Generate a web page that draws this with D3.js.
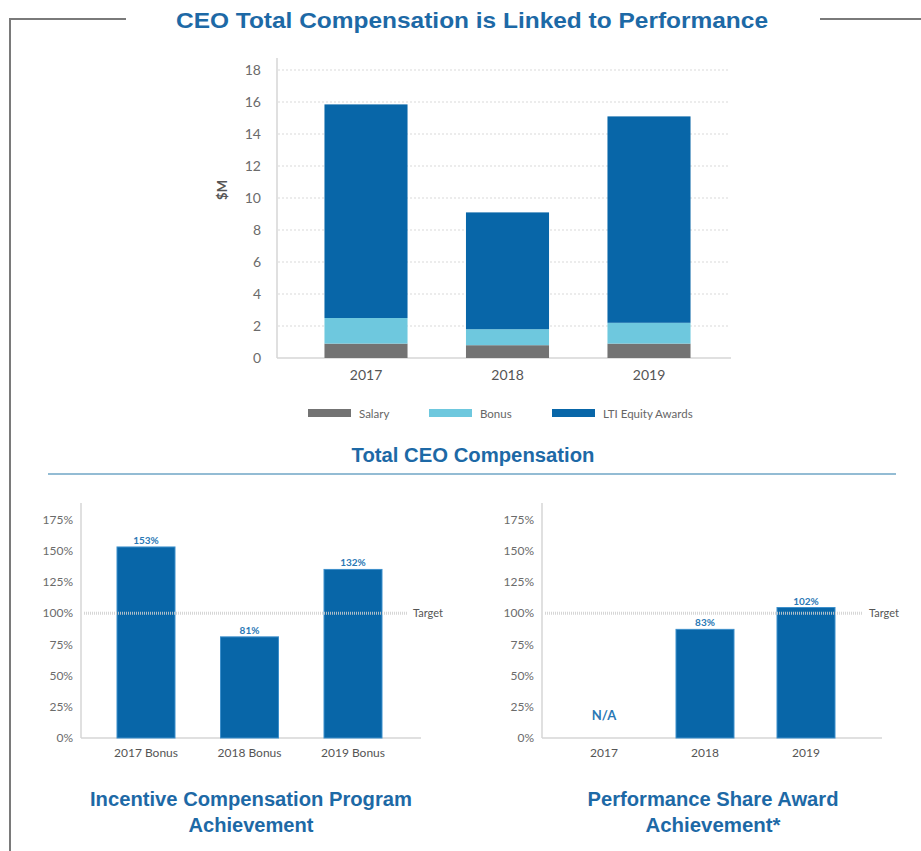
<!DOCTYPE html>
<html>
<head>
<meta charset="utf-8">
<script src="https://cdn.jsdelivr.net/npm/d3@7"></script>
<style>
  body { margin: 0; background: #fff; }
  svg { display: block; }
</style>
</head>
<body>
<div id="chart"></div>
<script>
// top chart data ($M)
var years = ["2017", "2018", "2019"];
var salary = [0.9, 0.8, 0.9];
var bonus = [1.6, 1.0, 1.3];
var lti = [13.35, 7.3, 12.9];
var seriesNames = ["Salary", "Bonus", "LTI Equity Awards"];
var topTicks = [0, 2, 4, 6, 8, 10, 12, 14, 16, 18];

// bottom left: incentive compensation
var icpCats = ["2017 Bonus", "2018 Bonus", "2019 Bonus"];
var icpValues = [153, 81, 135];
var icpLabels = ["153%", "81%", "132%"];

// bottom right: performance share award
var psaCats = ["2017", "2018", "2019"];
var psaValues = [null, 87, 104.5];
var psaLabels = ["N/A", "83%", "102%"];

var pctTicks = [0, 25, 50, 75, 100, 125, 150, 175];
var targetValue = 100;

var colors = {salary: "#737373", bonus: "#6ec8de", lti: "#0866a8"};
var titleBlue = "#1d69a6";
var tickGrey = "#6b6b6b";
var tickFont = "Lato, 'DejaVu Sans', sans-serif";
var titleFont = "'Liberation Sans', Arial, sans-serif";

var svg = d3.select("#chart").append("svg")
    .attr("width", 921)
    .attr("height", 851);

// frame lines
svg.append("path")
  .attr("d", "M10,851 L10,19 L126,19")
  .style("fill", "none")
  .style("stroke", "#7a7a7a")
  .style("stroke-width", 2);
svg.append("line")
  .attr("x1", 820).attr("y1", 19).attr("x2", 921).attr("y2", 19)
  .style("stroke", "#7a7a7a")
  .style("stroke-width", 2);

// title text helper, squeezed to the measured width
function titleText(x, y, size, w, str) {
  return svg.append("text")
    .attr("x", x).attr("y", y)
    .attr("text-anchor", "middle")
    .attr("textLength", w)
    .attr("lengthAdjust", "spacingAndGlyphs")
    .style("font", "bold " + size + "px " + titleFont)
    .style("fill", titleBlue)
    .text(str);
}

titleText(472, 28, 22, 592, "CEO Total Compensation is Linked to Performance");

// ---------- top stacked chart ----------
function drawTop() {
  var g = svg.append("g");
  var x = d3.scaleBand()
      .domain(years)
      .range([295.25, 719.75])
      .paddingInner(0.413)
      .paddingOuter(0.2065);
  var y = d3.scaleLinear()
      .domain([0, 18])
      .range([358, 70]);

  // gridlines
  g.selectAll(".grid")
    .data(topTicks.filter(function(d) { return d > 0; }))
    .enter().append("line")
      .attr("x1", 278).attr("x2", 730)
      .attr("y1", function(d) { return y(d); })
      .attr("y2", function(d) { return y(d); })
      .style("stroke", "#d9d9d9")
      .style("stroke-dasharray", "2,2");

  var yAxis = g.append("g")
    .attr("transform", "translate(277,0)")
    .call(d3.axisLeft(y).tickValues(topTicks).tickSize(0).tickPadding(16));
  yAxis.select(".domain").remove();
  yAxis.selectAll("text")
    .style("font", "14px " + tickFont)
    .style("fill", tickGrey);

  // axis lines
  g.append("line")
    .attr("x1", 277).attr("x2", 277).attr("y1", 58).attr("y2", y(0))
    .style("stroke", "#d6d6d6").style("stroke-width", 1.5);
  g.append("line")
    .attr("x1", 277).attr("x2", 731).attr("y1", y(0)).attr("y2", y(0))
    .style("stroke", "#d6d6d6").style("stroke-width", 1.5);

  g.append("text")
    .attr("transform", "translate(227,190)rotate(-90)")
    .attr("text-anchor", "middle")
    .style("font", "bold 13px " + tickFont)
    .style("fill", "#555")
    .text("$M");

  var rows = years.map(function(yr, i) {
    return {year: yr, salary: salary[i], bonus: bonus[i], lti: lti[i]};
  });
  var stack = d3.stack().keys(["salary", "bonus", "lti"])(rows);

  g.selectAll(".layer")
    .data(stack)
    .enter().append("g")
      .style("fill", function(d) { return colors[d.key]; })
    .selectAll("rect")
    .data(function(d) { return d; })
    .enter().append("rect")
      .attr("x", function(d) { return x(d.data.year); })
      .attr("width", x.bandwidth())
      .attr("y", function(d) { return y(d[1]); })
      .attr("height", function(d) { return y(d[0]) - y(d[1]); });

  var xAxis = g.append("g")
    .attr("transform", "translate(0," + y(0) + ")")
    .call(d3.axisBottom(x).tickSize(0).tickPadding(12));
  xAxis.select(".domain").remove();
  xAxis.selectAll("text")
    .style("font", "14px " + tickFont)
    .style("fill", "#555");

  // legend
  var legendX = [308, 429, 552];
  var keys = ["salary", "bonus", "lti"];
  var lg = g.selectAll(".legend")
    .data(seriesNames)
    .enter().append("g")
      .attr("transform", function(d, i) { return "translate(" + legendX[i] + ",409)"; });
  lg.append("rect")
    .attr("width", 43).attr("height", 8)
    .style("fill", function(d, i) { return colors[keys[i]]; });
  lg.append("text")
    .attr("x", 51).attr("y", 8.5)
    .style("font", "11.5px " + tickFont)
    .style("fill", "#666")
    .text(function(d) { return d; });

  titleText(473, 462, 20, 243, "Total CEO Compensation");

  svg.append("line")
    .attr("x1", 48).attr("x2", 896).attr("y1", 474).attr("y2", 474)
    .style("stroke", "#93bcd4")
    .style("stroke-width", 2);
}

// ---------- bottom percentage charts ----------
function drawPct(cats, values, labels, opts) {
  var g = svg.append("g");
  var x = d3.scaleBand()
      .domain(cats)
      .range([opts.c0 - opts.step / 2, opts.c0 + opts.step * 2.5])
      .paddingInner(1 - opts.bw / opts.step)
      .paddingOuter((1 - opts.bw / opts.step) / 2);
  var y = d3.scaleLinear()
      .domain([0, 175])
      .range([738, 519.5]);

  var yAxis = g.append("g")
    .attr("transform", "translate(" + opts.axisX + ",0)")
    .call(d3.axisLeft(y).tickValues(pctTicks).tickSize(0).tickPadding(8)
      .tickFormat(function(d) { return d + "%"; }));
  yAxis.select(".domain").remove();
  yAxis.selectAll("text")
    .style("font", "12px " + tickFont)
    .style("fill", tickGrey);

  g.append("line")
    .attr("x1", opts.axisX).attr("x2", opts.axisX).attr("y1", 503).attr("y2", y(0))
    .style("stroke", "#d6d6d6").style("stroke-width", 1.5);
  g.append("line")
    .attr("x1", opts.axisX).attr("x2", opts.endX).attr("y1", y(0)).attr("y2", y(0))
    .style("stroke", "#d6d6d6").style("stroke-width", 1.5);

  var data = cats.map(function(c, i) { return {cat: c, v: values[i], label: labels[i]}; });

  g.selectAll(".bar")
    .data(data.filter(function(d) { return d.v != null; }))
    .enter().append("rect")
      .attr("x", function(d) { return x(d.cat); })
      .attr("width", x.bandwidth())
      .attr("y", function(d) { return y(d.v); })
      .attr("height", function(d) { return y(0) - y(d.v); })
      .style("fill", colors.lti)
      .style("stroke", "#3d8fcb")
      .style("stroke-width", 1);

  // target line
  g.append("line")
    .attr("x1", opts.axisX + 3).attr("x2", opts.targetEnd)
    .attr("y1", y(targetValue)).attr("y2", y(targetValue))
    .style("stroke", "#cfcfcf")
    .style("stroke-width", 3)
    .style("stroke-dasharray", "1,1")
    .style("opacity", 0.85);
  g.append("text")
    .attr("x", opts.targetEnd + 6).attr("y", y(targetValue) + 4)
    .style("font", "11px " + tickFont)
    .style("fill", "#555")
    .text("Target");

  g.selectAll(".val")
    .data(data)
    .enter().append("text")
      .attr("x", function(d) { return x(d.cat) + x.bandwidth() / 2; })
      .attr("y", function(d) { return d.v == null ? y(0) - 18 : y(d.v) - 3; })
      .attr("text-anchor", "middle")
      .style("font", function(d) { return d.v == null ? "bold 13px " + tickFont : "bold 10px " + tickFont; })
      .style("fill", "#2a78b5")
      .text(function(d) { return d.label; });

  var xAxis = g.append("g")
    .attr("transform", "translate(0," + y(0) + ")")
    .call(d3.axisBottom(x).tickSize(0).tickPadding(10));
  xAxis.select(".domain").remove();
  xAxis.selectAll("text")
    .style("font", "12px " + tickFont)
    .style("fill", "#555");

  titleText(opts.titleX, 806, 20, opts.titleW[0], opts.title[0]);
  titleText(opts.titleX, 832, 20, opts.titleW[1], opts.title[1]);
}

drawTop();
drawPct(icpCats, icpValues, icpLabels, {
  c0: 146, step: 103.5, bw: 58, axisX: 81, endX: 421, targetEnd: 407,
  titleX: 251, titleW: [322, 125], title: ["Incentive Compensation Program", "Achievement"]
});
drawPct(psaCats, psaValues, psaLabels, {
  c0: 604, step: 101, bw: 58, axisX: 542, endX: 882, targetEnd: 863,
  titleX: 713, titleW: [251, 135], title: ["Performance Share Award", "Achievement*"]
});
</script>
</body>
</html>
